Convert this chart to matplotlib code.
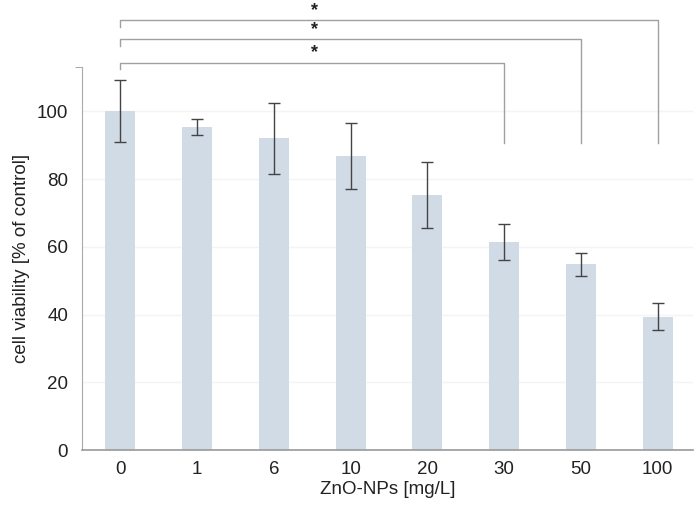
import matplotlib.pyplot as plt
import numpy as np

plt.rcParams['font.family'] = ['Liberation Sans', 'DejaVu Sans']

# ZnO nanoparticle concentrations and cell viability
doses = ['0', '1', '6', '10', '20', '30', '50', '100']
viability = [100.0, 95.4, 92.0, 86.8, 75.3, 61.4, 54.9, 39.4]
err = [9.2, 2.3, 10.6, 9.8, 9.8, 5.2, 3.4, 3.9]

# significance brackets: (from, to, height, star label)
sig_from = [0, 0, 0]
sig_to = [7, 6, 5]
sig_height = [127.0, 121.3, 114.4]
sig_label = ['*', '*', '*']

x = np.arange(len(doses))

fig = plt.figure(figsize=(7, 5.15), dpi=100)
ax = fig.add_axes([0.117, 0.126, 0.873, 0.744])

ax.bar(x, viability, width=0.39, color='#d0dbe6', zorder=2)
ax.errorbar(x, viability, yerr=err, fmt='none', ecolor='#444444',
            elinewidth=1, capsize=4, capthick=1, zorder=3)

ax.set_xlim(-0.5, 7.46)
ax.set_ylim(0, 113.1)
ax.set_xticks(x)
ax.set_xticklabels(doses)
ax.set_yticks([0, 20, 40, 60, 80, 100])
ax.set_yticks([0, 113.1], minor=True)
ax.tick_params(axis='x', length=0, pad=8, labelsize=13.5, colors='#222222')
ax.tick_params(axis='y', which='major', length=0, pad=10, labelsize=13.5, colors='#222222')
ax.tick_params(axis='y', which='minor', length=5, color='#999999')

ax.grid(axis='y', color='#f4f4f4', linewidth=1, zorder=0)
for side in ['top', 'right']:
    ax.spines[side].set_visible(False)
ax.spines['left'].set_color('#aaaaaa')
ax.spines['bottom'].set_color('#999999')
ax.spines['bottom'].set_linewidth(1.2)

ax.set_xlabel('ZnO-NPs [mg/L]', fontsize=13.5, color='#222222', labelpad=2)
ax.set_ylabel('cell viability [% of control]', fontsize=13.5, color='#222222', labelpad=5)

# brackets
for a, b, h, lab in zip(sig_from, sig_to, sig_height, sig_label):
    ax.plot([a, a, b, b], [h - 2, h, h, 90.6], color='#a0a0a0',
            linewidth=1, clip_on=False, zorder=4)
    ax.text(2.53, h + 0.3, lab, ha='center', va='bottom', fontsize=13,
            fontweight='bold', color='#222222', clip_on=False)

fig.savefig('out.png', dpi=100)
